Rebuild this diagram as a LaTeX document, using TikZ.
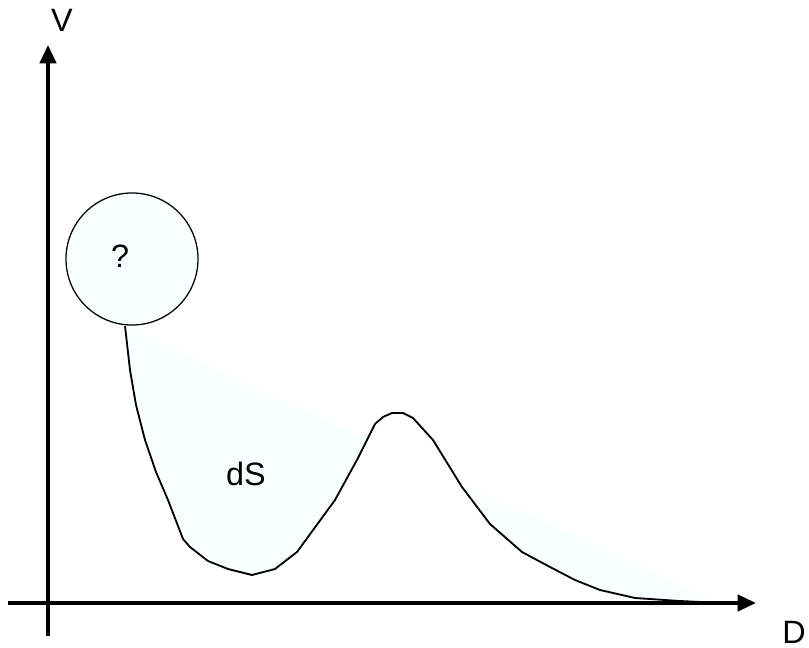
\documentclass[tikz,border=0pt]{standalone}
\usepackage{fontspec}
\setmainfont{Liberation Sans}
\usetikzlibrary{arrows.meta}
\definecolor{paleblue}{RGB}{248,255,255}

% curve of the potential, in pixel units
\newcommand\wellcurve{(125,326) -- (130,370) -- (136,405) -- (145,440) -- (156,472)
  -- (168,500) -- (183,539) -- (190,547) -- (208,561) -- (228,569) -- (252,575)
  -- (275,569) -- (297,552) -- (335,500) -- (358,458) -- (375,424) -- (383,417)
  -- (392,413) -- (403,413) -- (413,418) -- (433,440) -- (462,487) -- (490,524)
  -- (522,552) -- (550,567) -- (575,580) -- (600,590) -- (635,598) -- (680,601)
  -- (720,603)}

\begin{document}
\begin{tikzpicture}[x=0.025cm,y=-0.025cm,>={Triangle[length=13pt,width=11.5pt]},
    txt/.style={font=\fontsize{23}{28}\selectfont,inner sep=0pt},
    axis/.style={line width=2.6pt,->},
    wellline/.style={line width=1.3pt,line join=round}]
  \useasboundingbox (0,0) rectangle (809,648);

  % shaded area between the chord and the curve
  \begin{scope}
    \clip (125,326) -- (720,603) -- (720,648) -- (125,648) -- cycle;
    \fill[paleblue] (125,0) -- \wellcurve -- (720,0) -- cycle;
  \end{scope}

  \node[circle,draw,line width=0.9pt,fill=paleblue,minimum size=3.3cm] (ball) at (132,259) {};
  \draw[wellline] \wellcurve;

  % axes
  \coordinate (ybot) at (48,636);
  \coordinate (ytop) at (48,45);
  \coordinate (xleft) at (8,603);
  \coordinate (xright) at (756,603);
  \draw[axis] (ybot) -- (ytop);
  \draw[axis] (xleft) -- (xright);

  \node[txt] (vlab) at (62,20) {V};
  \node[txt] (dlab) at (794,632) {D};
  \node[txt] (qlab) at (120,256) {?};
  \node[txt] (dslab) at (246,474) {dS};
\end{tikzpicture}
\end{document}
